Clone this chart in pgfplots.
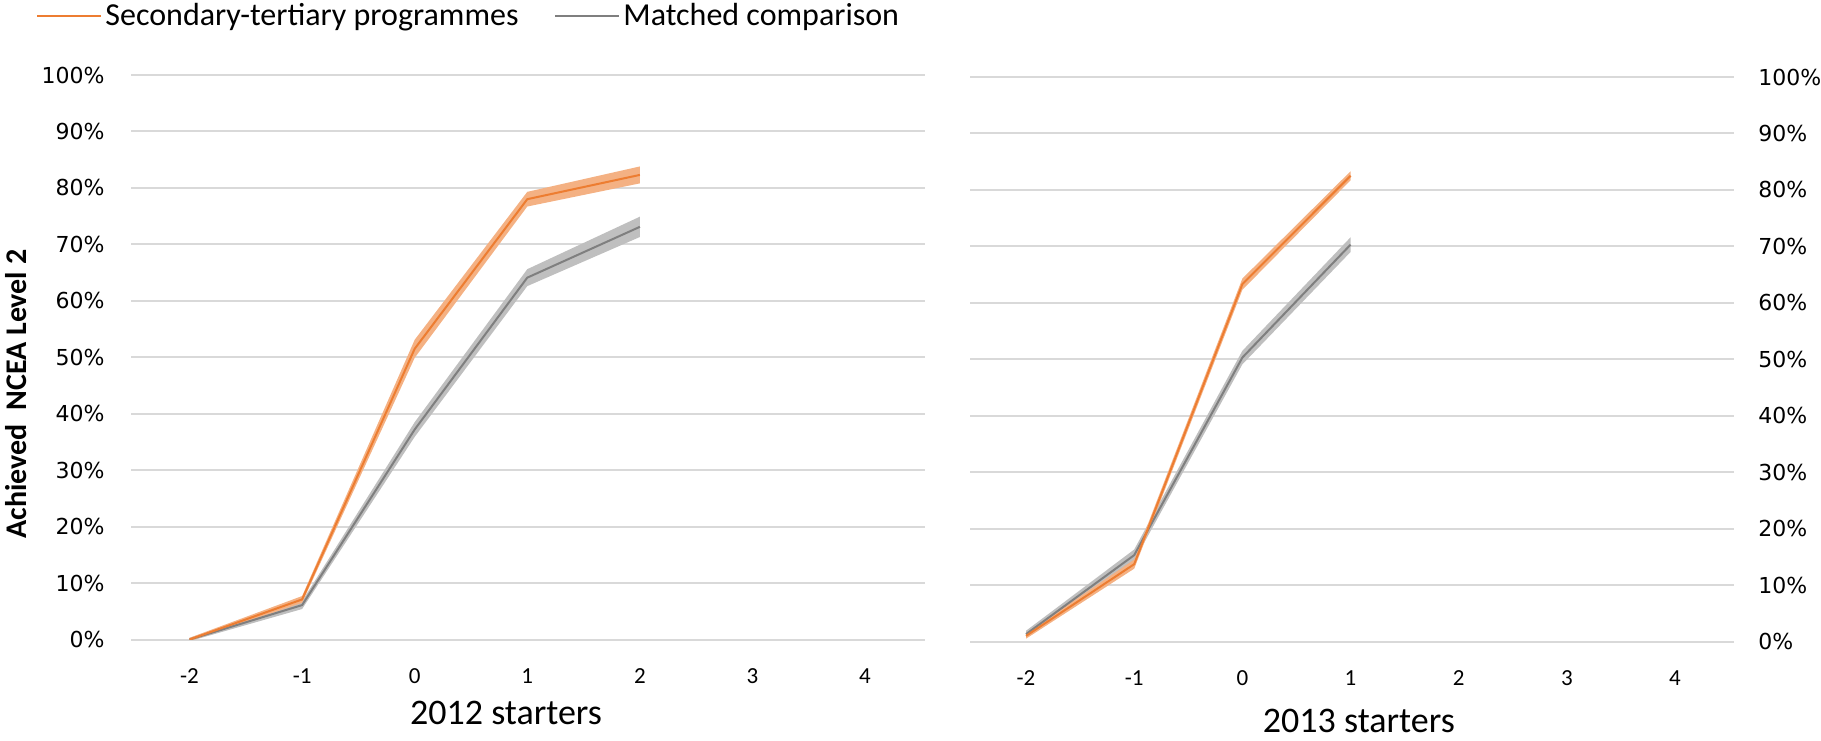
\documentclass[border=0pt]{standalone}
\usepackage{fontspec}
\setmainfont{Carlito}
\newfontfamily\dejavu{DejaVu Sans}
\usepackage{pgfplots}
\pgfplotsset{compat=1.18}

\definecolor{stOrange}{HTML}{ED7D31}
\definecolor{stOrangeBand}{HTML}{F4B183}
\definecolor{mcGray}{HTML}{7F7F7F}
\definecolor{mcGrayBand}{HTML}{BFBFBF}
\definecolor{gridGray}{HTML}{D9D9D9}

\pgfplotsset{
  panel/.style={
    scale only axis,
    anchor=south west,
    height=282.25pt,
    ymin=0, ymax=100,
    ytick={0,10,...,100},
    yticklabels={0\%,10\%,20\%,30\%,40\%,50\%,60\%,70\%,80\%,90\%,100\%},
    xtick={-2,-1,0,1,2,3,4},
    xticklabels={-2,-1,0,1,2,3,4},
    ymajorgrids,
    grid style={gridGray, line width=1pt},
    axis line style={draw=none},
    major tick style={draw=none},
    xticklabel style={font=\fontsize{11.5}{13}\selectfont, anchor=north, inner sep=0pt, yshift=-14.4pt},
  },
  band/.style={draw=none, fill=#1, forget plot},
  mean/.style={#1, line width=1pt, forget plot},
}

\begin{document}
\begin{tikzpicture}
\useasboundingbox (0,0) rectangle (910.5pt,370pt);

% 2012 starters
\begin{axis}[panel,
  at={(65.5pt,50.25pt)}, width=397pt,
  xmin=-2.52, xmax=4.533,
  yticklabel style={font=\dejavu\fontsize{11}{13}\selectfont, anchor=east, inner sep=0pt, xshift=-13pt},
  xlabel={2012 starters},
  xlabel style={font=\fontsize{18}{21}\selectfont, at={(axis description cs:0.4723,-0.1293)}, anchor=center, inner sep=0pt},
  ylabel={\bfseries Achieved~~NCEA Level 2},
  ylabel style={font=\fontsize{15}{18}\selectfont, at={(axis description cs:-0.1448,0.4349)}, anchor=center, inner sep=0pt},
  legend style={at={(axis description cs:-0.1196,1.104)}, anchor=west, draw=none, fill=none,
    font=\fontsize{16}{19}\selectfont, inner sep=0pt, nodes={inner sep=0pt},
    /tikz/every odd column/.append style={column sep=1.5pt},
    /tikz/every even column/.append style={column sep=18pt}},
  legend columns=2,
  legend image code/.code={\draw[#1] (0pt,0pt) -- (32pt,0pt);},
]
\addlegendimage{stOrange, line width=1pt}
\addlegendentry{Secondary-tertiary programmes}
\addlegendimage{mcGray, line width=1pt}
\addlegendentry{Matched comparison}

\addplot[band=mcGrayBand] coordinates {
  (-2,0.3) (-1,6.8) (0,38.5) (1,65.6) (2,74.9)
  (2,71.3) (1,62.6) (0,35.9) (-1,5.4) (-2,-0.3)} -- cycle;
\addplot[band=stOrangeBand] coordinates {
  (-2,0.3) (-1,7.7) (0,53.1) (1,79.3) (2,83.8)
  (2,80.8) (1,76.7) (0,49.9) (-1,6.5) (-2,-0.3)} -- cycle;
\addplot[mean=mcGray] coordinates {(-2,0) (-1,6.1) (0,37.2) (1,64.1) (2,73.1)};
\addplot[mean=stOrange] coordinates {(-2,0) (-1,7.1) (0,51.5) (1,78.0) (2,82.3)};
\end{axis}

% 2013 starters
\begin{axis}[panel,
  at={(485pt,49.25pt)}, width=382pt,
  xmin=-2.518, xmax=4.545,
  yticklabel pos=right,
  yticklabel style={font=\dejavu\fontsize{11}{13}\selectfont, anchor=west, inner sep=0pt, xshift=12pt},
  xlabel={2013 starters},
  xlabel style={font=\fontsize{18}{21}\selectfont, at={(axis description cs:0.509,-0.140)}, anchor=center, inner sep=0pt},
]
\addplot[band=mcGrayBand] coordinates {
  (-2,1.9) (-1,16.3) (0,51.5) (1,71.6)
  (1,69.0) (0,49.1) (-1,14.3) (-2,0.7)} -- cycle;
\addplot[band=stOrangeBand] coordinates {
  (-2,1.5) (-1,14.5) (0,64.3) (1,83.3)
  (1,81.7) (0,62.3) (-1,12.9) (-2,0.5)} -- cycle;
\addplot[mean=mcGray] coordinates {(-2,1.3) (-1,15.3) (0,50.3) (1,70.3)};
\addplot[mean=stOrange] coordinates {(-2,1.0) (-1,13.7) (0,63.3) (1,82.5)};
\end{axis}
\end{tikzpicture}
\end{document}
